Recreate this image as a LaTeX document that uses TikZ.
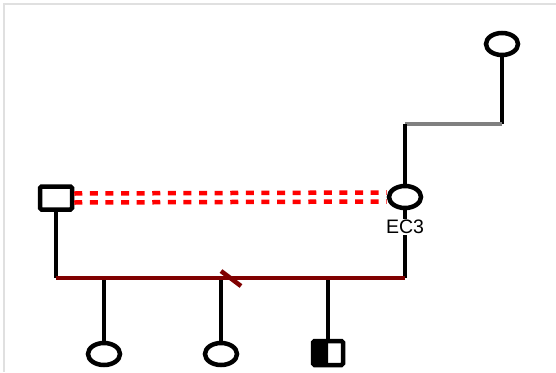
\documentclass[tikz,border=0pt]{standalone}
\usepackage{fontspec}
\setmainfont{Liberation Sans}
\usetikzlibrary{shapes.geometric}
\definecolor{darkred}{HTML}{800000}
\definecolor{frame}{HTML}{E0E0E0}
\begin{document}
\begin{tikzpicture}[x=1pt,y=-1pt,
  fem/.style={ellipse,draw=black,line width=4.5pt,fill=white,minimum width=32pt,minimum height=22pt,inner sep=0pt},
  male/.style={rectangle,draw=black,line width=4.5pt,fill=white,rounded corners=1.5pt,minimum width=32pt,minimum height=23pt,inner sep=0pt},
  halfmale/.style={male,minimum width=30pt,minimum height=24pt,
    path picture={\fill[black] (path picture bounding box.south west) rectangle (path picture bounding box.north);}},
  link/.style={draw=black,line width=4.5pt},
  marriage/.style={draw=darkred,line width=4.5pt},
  consang/.style={draw=red,line width=4.5pt,dash pattern=on 8pt off 7.6pt},
  lbl/.style={font=\fontsize{19.5}{21}\selectfont,fill=white,inner sep=1.5pt}]
\useasboundingbox (0,0) rectangle (556,372);
\draw[frame,line width=1.5pt] (4,372) -- (4,4) -- (556,4);
% coordinates
\coordinate (tr) at (502,124);
\coordinate (tl) at (405,124);
\coordinate (ml) at (56,278);
\coordinate (mr) at (405,278);
\coordinate (d1) at (104,278);
\coordinate (d2) at (221,278);
\coordinate (d3) at (328,278);
\coordinate (s1) at (221,271);
\coordinate (s2) at (241,286);
% lines
\draw[link] (502,44) -- (tr);
\draw[draw=gray,line width=4pt] (tl) -- (tr);
\draw[link] (tl) -- (405,197);
\draw[link] (405,197) -- (mr);
\draw[link] (56,198) -- (ml);
\draw[link] (d1) -- (104,354);
\draw[link] (d2) -- (221,354);
\draw[link] (d3) -- (328,353);
\draw[marriage] (ml) -- (mr);
\draw[marriage] (s1) -- (s2);
% nodes
\node[fem] (top) at (502,44) {};
\node[fem] (ec3) at (405,197) {};
\node[male] (sq) at (56,198) {};
\node[fem] (c1) at (104,354) {};
\node[fem] (c2) at (221,354) {};
\node[halfmale] (c3) at (328,353) {};
\node[lbl] (ec3lbl) at (405,227) {EC3};
% consanguinity
\draw[consang] ([yshift=4.5pt]sq.east) -- ([yshift=4.5pt]ec3.west);
\draw[consang] ([yshift=-4.5pt]sq.east) -- ([yshift=-4.5pt]ec3.west);
\end{tikzpicture}
\end{document}
